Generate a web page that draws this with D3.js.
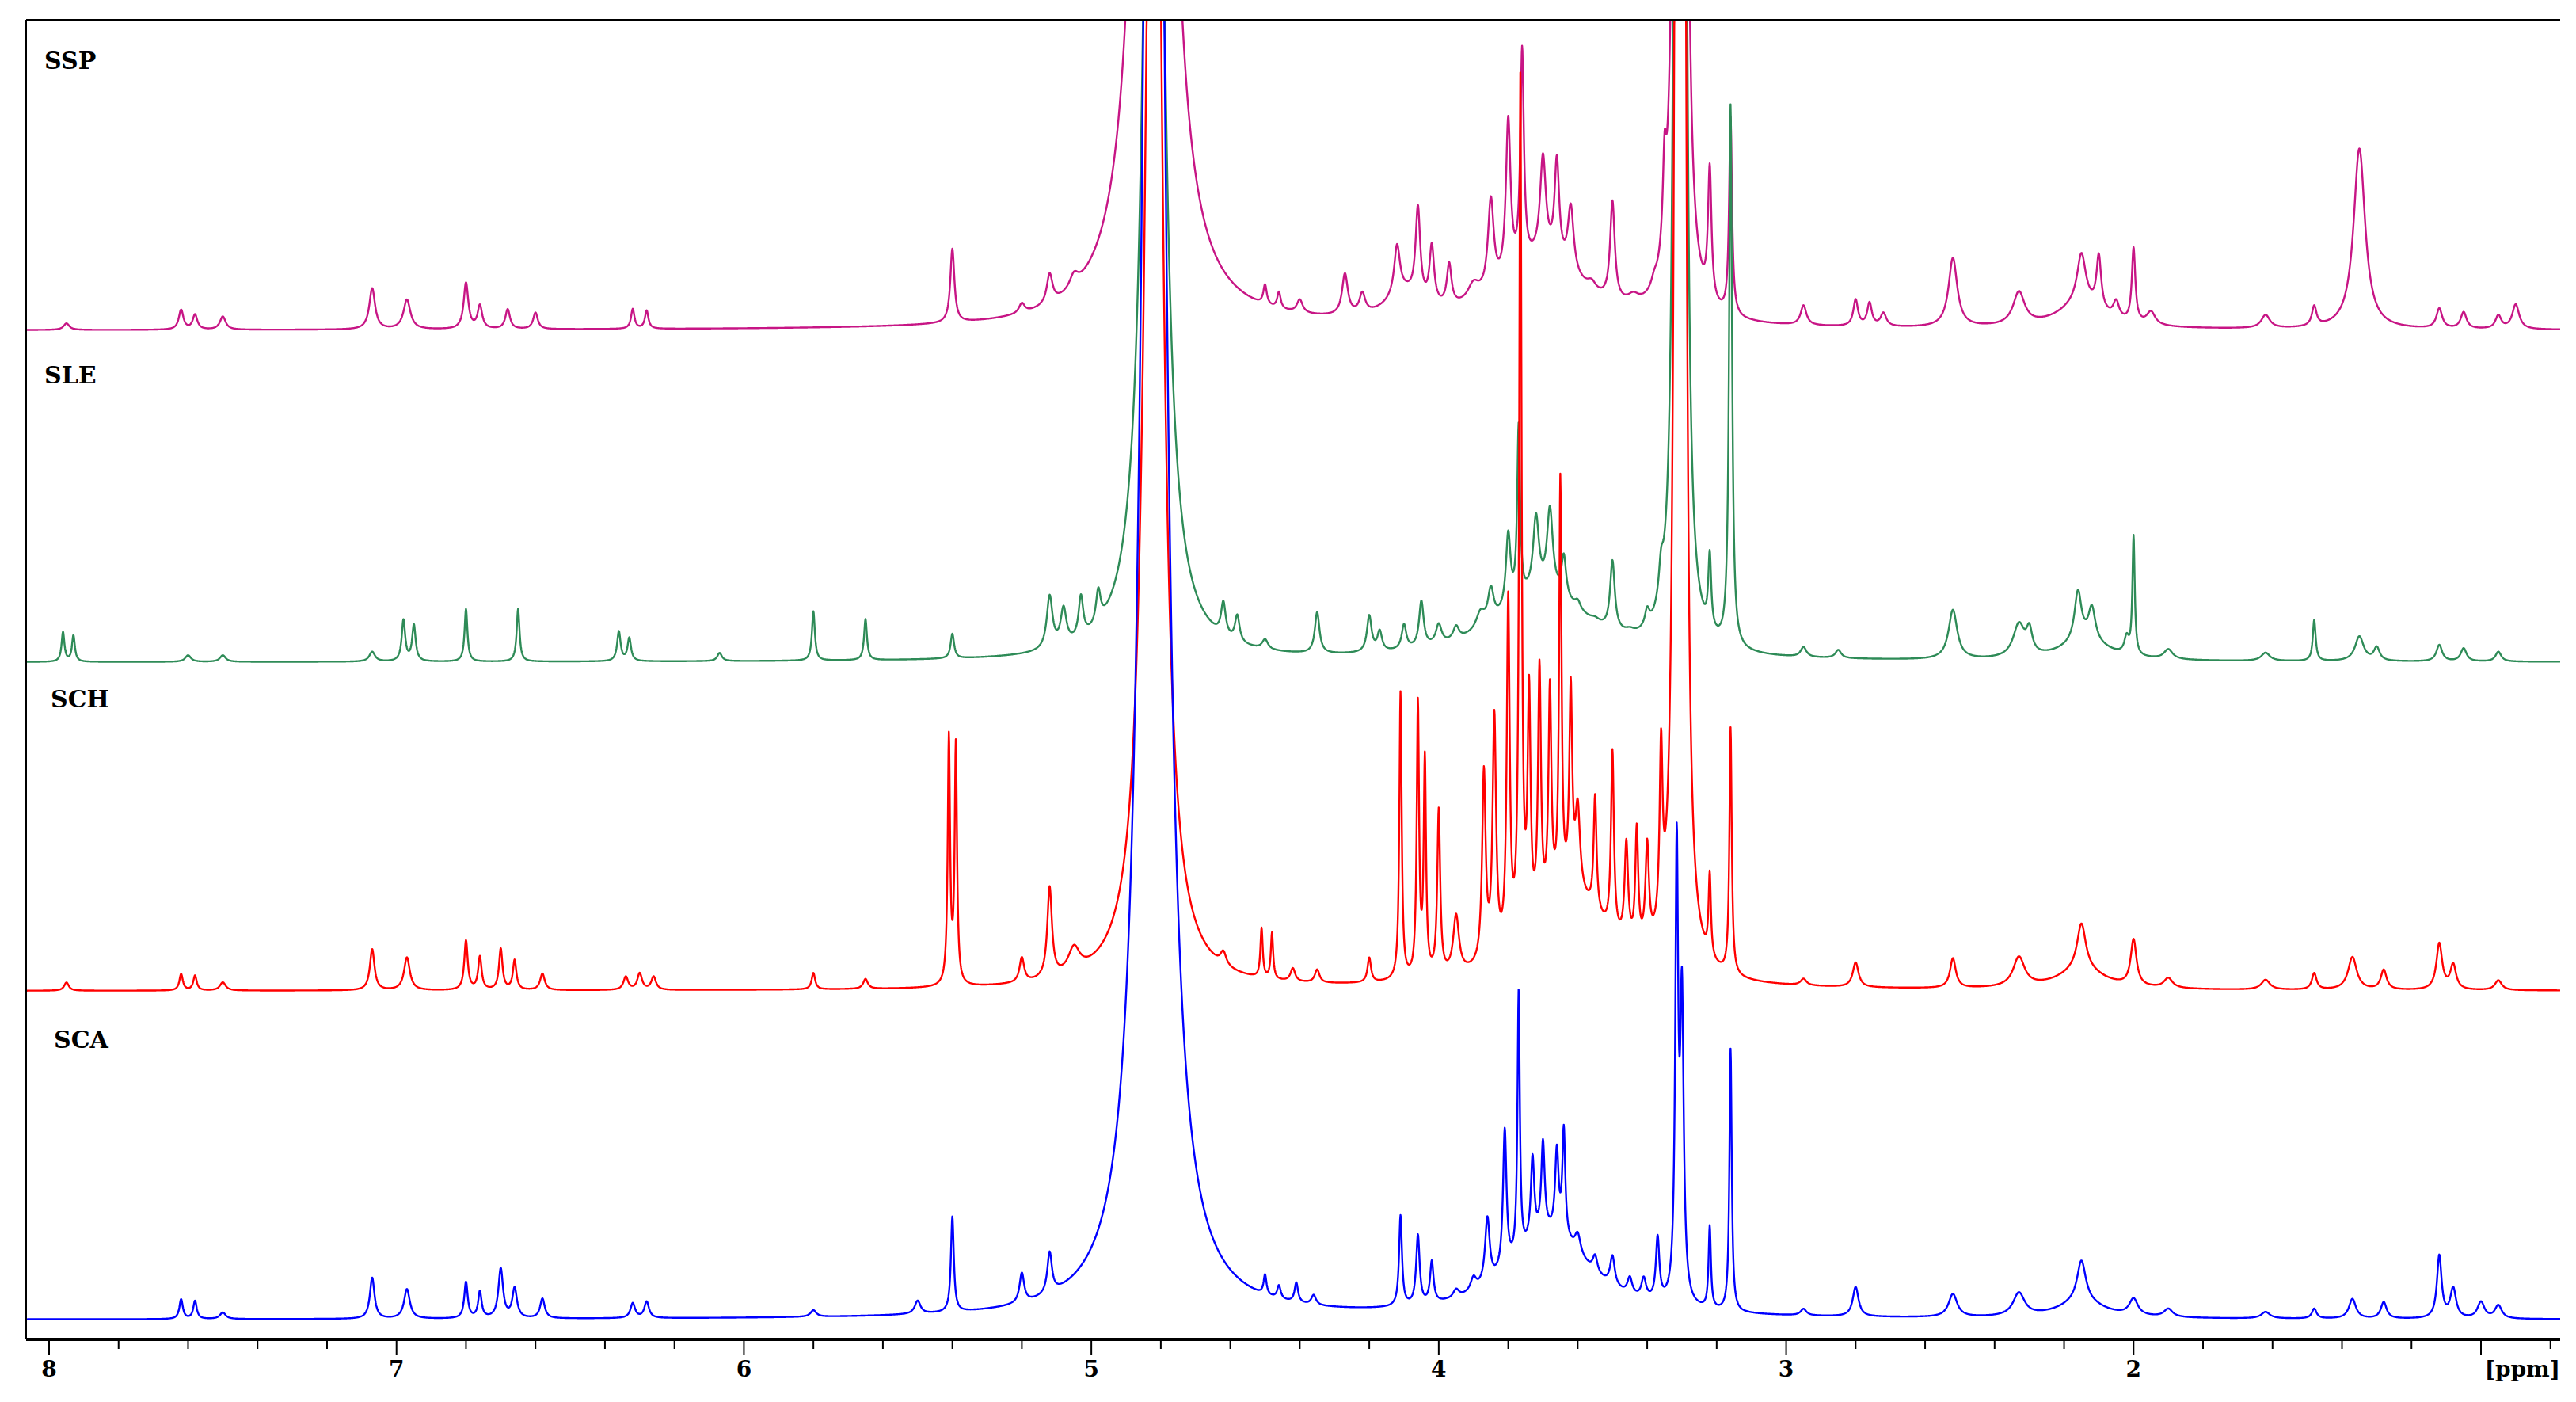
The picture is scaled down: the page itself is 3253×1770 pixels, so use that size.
<!DOCTYPE html>
<html>
<head>
<meta charset="utf-8">
<script src="https://cdn.jsdelivr.net/npm/d3@7"></script>
<style>
  body { margin: 0; background: #fff; }
  text { font-family: "DejaVu Serif", "Liberation Serif", serif; }
</style>
</head>
<body>
<svg id="chart" width="3253" height="1770"></svg>
<script>
// peak lists: [ppm, height (display px above baseline), half width ppm]
const ssp = [
  [7.95,4,0.01],[7.62,12,0.008],[7.58,9,0.008],[7.5,8,0.01],[7.07,25,0.01],[6.97,18,0.012],
  [6.8,28,0.008],[6.76,14,0.008],[6.68,12,0.008],[6.6,10,0.008],[6.32,12,0.006],[6.28,11,0.006],
  [5.4,45,0.007],[5.2,6,0.01],[5.12,18,0.01],[5.05,8,0.015],
  [4.82,1600,0.03],
  [4.5,12,0.006],[4.46,10,0.006],[4.4,8,0.01],[4.27,25,0.01],[4.22,12,0.01],
  [3.7,40,0.14],[4.1,15,0.06],
  [4.12,30,0.01],[4.06,55,0.008],[4.02,35,0.008],[3.97,25,0.008],[3.9,10,0.02],
  [3.85,55,0.01],[3.8,95,0.008],[3.76,130,0.006],[3.7,60,0.01],[3.66,60,0.008],
  [3.62,40,0.01],[3.56,5,0.015],[3.5,60,0.008],[3.44,5,0.02],[3.38,5,0.01],
  [3.35,50,0.006],[3.315,900,0.008],[3.295,900,0.008],[3.22,80,0.006],[3.16,120,0.005],
  [2.95,12,0.01],[2.8,16,0.008],[2.76,14,0.008],[2.72,8,0.01],[2.52,42,0.015],[2.33,20,0.02],
  [2.15,15,0.08],[2.15,30,0.015],[2.1,32,0.008],[2.05,10,0.01],[2.0,45,0.006],[1.95,8,0.015],
  [1.62,8,0.015],[1.48,12,0.008],[1.35,110,0.02],[1.12,12,0.01],[1.05,10,0.01],[0.95,8,0.01],[0.9,15,0.012]
];
const sle = [
  [7.96,18,0.005],[7.93,16,0.005],[7.6,4,0.01],[7.5,4,0.01],[7.07,6,0.01],[6.98,25,0.006],[6.95,22,0.006],
  [6.8,32,0.005],[6.65,32,0.005],[6.36,18,0.006],[6.33,14,0.006],[6.07,5,0.008],
  [5.8,30,0.005],[5.65,25,0.005],[5.4,15,0.006],[5.12,32,0.01],[5.08,22,0.01],[5.03,25,0.008],[4.98,20,0.008],
  [4.82,1000,0.025],
  [4.62,20,0.008],[4.58,16,0.008],[4.5,6,0.01],[4.35,25,0.008],[4.2,22,0.008],[4.17,12,0.008],
  [3.7,40,0.16],
  [4.1,15,0.008],[4.05,28,0.008],[4.0,12,0.01],[3.95,8,0.01],[3.88,10,0.015],[3.85,20,0.01],
  [3.8,45,0.008],[3.77,105,0.005],[3.72,45,0.01],[3.68,50,0.01],[3.64,25,0.008],[3.6,5,0.01],
  [3.55,2,0.015],[3.5,42,0.008],[3.45,2,0.015],[3.4,10,0.008],[3.36,20,0.008],
  [3.315,900,0.008],[3.295,900,0.008],[3.22,45,0.005],[3.16,330,0.005],
  [2.95,6,0.01],[2.85,5,0.01],[2.52,30,0.015],[2.33,20,0.02],[2.3,14,0.01],
  [2.14,12,0.08],[2.16,30,0.012],[2.12,20,0.012],[2.02,10,0.008],[2.0,72,0.004],[1.9,6,0.015],
  [1.62,5,0.015],[1.48,25,0.005],[1.35,15,0.015],[1.3,8,0.01],[1.12,10,0.01],[1.05,8,0.01],[0.95,6,0.01]
];
const sch = [
  [7.95,5,0.008],[7.62,10,0.006],[7.58,9,0.006],[7.5,5,0.01],[7.07,25,0.008],[6.97,20,0.01],
  [6.8,30,0.006],[6.76,20,0.006],[6.7,25,0.006],[6.66,18,0.006],[6.58,10,0.008],
  [6.34,8,0.008],[6.3,10,0.008],[6.26,8,0.008],[5.8,10,0.006],[5.65,6,0.008],
  [5.41,150,0.004],[5.39,145,0.004],[5.2,15,0.008],[5.12,55,0.008],[5.05,15,0.02],
  [4.82,1000,0.025],
  [4.62,8,0.01],[4.51,30,0.004],[4.48,28,0.004],[4.42,8,0.008],[4.35,8,0.008],[4.2,15,0.006],
  [3.62,55,0.13],
  [4.11,175,0.004],[4.06,165,0.004],[4.04,130,0.004],[4.0,100,0.005],[3.95,35,0.01],
  [3.87,115,0.006],[3.84,145,0.006],[3.8,210,0.005],[3.765,520,0.004],[3.74,140,0.005],
  [3.71,150,0.005],[3.68,130,0.005],[3.65,250,0.004],[3.62,120,0.005],[3.6,50,0.008],
  [3.55,70,0.005],[3.5,110,0.005],[3.46,60,0.006],[3.43,70,0.005],[3.4,60,0.006],
  [3.36,105,0.005],[3.315,900,0.008],[3.295,900,0.008],[3.22,50,0.004],[3.16,150,0.004],
  [2.95,4,0.01],[2.8,15,0.01],[2.52,18,0.01],[2.33,18,0.02],[2.15,12,0.08],[2.15,28,0.015],[2.0,28,0.01],
  [1.9,6,0.015],[1.62,6,0.015],[1.48,10,0.008],[1.37,20,0.015],[1.28,12,0.01],
  [1.12,28,0.01],[1.08,15,0.01],[0.95,6,0.012]
];
const sca = [
  [7.62,12,0.006],[7.58,11,0.006],[7.5,4,0.01],[7.07,25,0.008],[6.97,18,0.01],
  [6.8,22,0.006],[6.76,16,0.006],[6.7,30,0.008],[6.66,18,0.008],[6.58,12,0.008],
  [6.32,9,0.008],[6.28,10,0.008],[5.8,4,0.01],[5.5,8,0.01],
  [5.4,58,0.005],[5.2,18,0.008],[5.12,25,0.008],
  [4.82,1600,0.03],
  [4.5,12,0.005],[4.46,8,0.006],[4.41,12,0.006],[4.36,6,0.008],
  [3.68,50,0.14],
  [4.11,55,0.005],[4.06,42,0.006],[4.02,25,0.006],[3.95,5,0.01],[3.9,8,0.01],
  [3.86,40,0.008],[3.81,85,0.006],[3.77,160,0.004],[3.73,50,0.006],[3.7,55,0.006],
  [3.66,50,0.006],[3.64,65,0.005],[3.6,12,0.01],[3.55,10,0.008],[3.5,18,0.008],
  [3.45,10,0.008],[3.41,12,0.008],[3.37,38,0.006],[3.315,270,0.005],[3.3,180,0.006],
  [3.22,50,0.004],[3.16,160,0.004],
  [2.95,4,0.01],[2.8,18,0.01],[2.52,14,0.015],[2.33,14,0.02],[2.15,10,0.08],[2.15,25,0.015],[2.0,10,0.015],
  [1.9,5,0.015],[1.62,4,0.015],[1.48,6,0.008],[1.37,12,0.012],[1.28,10,0.01],
  [1.12,38,0.008],[1.08,18,0.01],[1.0,10,0.012],[0.95,8,0.012]
];

const seriesNames = ["SSP", "SLE", "SCH", "SCA"];
const seriesPeaks = [ssp, sle, sch, sca];
const seriesColors = ["#c71585", "#2e8b57", "#ff0000", "#0000ff"];
const baselines = [417, 836, 1251, 1666];
const labelPos = [[56, 87], [56, 484], [64, 893], [68, 1323]];
const majorTicks = [8, 7, 6, 5, 4, 3, 2];

const svg = d3.select("#chart");
const plotLeft = 33, plotRight = 3233, plotTop = 25, axisY = 1691;

const x = d3.scaleLinear().domain([8, 1]).range([62, 3133]);
const ppmMin = x.invert(plotRight), ppmMax = x.invert(plotLeft);

svg.append("clipPath").attr("id", "plot")
  .append("rect").attr("x", plotLeft).attr("y", plotTop)
  .attr("width", plotRight - plotLeft).attr("height", axisY - plotTop);

function spectrum(peaks) {
  const pts = [];
  for (let p = ppmMax; p >= ppmMin; p -= 0.001) {
    let v = 0;
    for (const [c, h, w] of peaks) v += h * w * w / ((p - c) * (p - c) + w * w);
    pts.push([p, v]);
  }
  return pts;
}

const g = svg.append("g").attr("clip-path", "url(#plot)");
seriesPeaks.forEach((peaks, i) => {
  const y = d3.scaleLinear().domain([0, 100]).range([baselines[i], baselines[i] - 207.5]);
  const line = d3.line().x(d => x(d[0])).y(d => Math.max(y(d[1]), plotTop - 10));
  g.append("path")
    .datum(spectrum(peaks))
    .attr("fill", "none")
    .attr("stroke", seriesColors[i])
    .attr("stroke-width", 2.4)
    .attr("stroke-linejoin", "round")
    .attr("d", line);
});

seriesNames.forEach((n, i) => {
  svg.append("text").attr("x", labelPos[i][0]).attr("y", labelPos[i][1])
    .attr("font-size", 30).attr("font-weight", "bold").text(n);
});

// frame
svg.append("line").attr("x1", plotLeft).attr("x2", plotRight).attr("y1", plotTop).attr("y2", plotTop)
  .attr("stroke", "#000").attr("stroke-width", 2);
svg.append("line").attr("x1", plotLeft).attr("x2", plotLeft).attr("y1", plotTop).attr("y2", axisY)
  .attr("stroke", "#000").attr("stroke-width", 2);

// axis
const minor = d3.range(8.0, 0.75, -0.2).map(v => +v.toFixed(1)).filter(v => x(v) >= plotLeft && x(v) <= plotRight);
const ax = svg.append("g").attr("transform", `translate(0,${axisY})`);
ax.append("line").attr("x1", plotLeft).attr("x2", plotRight).attr("stroke", "#000").attr("stroke-width", 4);
ax.selectAll(".mt").data(minor).join("line")
  .attr("x1", d => x(d)).attr("x2", d => x(d)).attr("y1", 0)
  .attr("y2", d => majorTicks.includes(d) || d === 1 ? 20 : 12)
  .attr("stroke", "#000").attr("stroke-width", 2);
ax.selectAll(".tl").data(majorTicks).join("text")
  .attr("x", d => x(d)).attr("y", 47).attr("text-anchor", "middle")
  .attr("font-size", 28).attr("font-weight", "bold").text(d => d);
ax.append("text").attr("x", 3233).attr("y", 47).attr("text-anchor", "end")
  .attr("font-size", 28).attr("font-weight", "bold").text("[ppm]");
</script>
</body>
</html>
